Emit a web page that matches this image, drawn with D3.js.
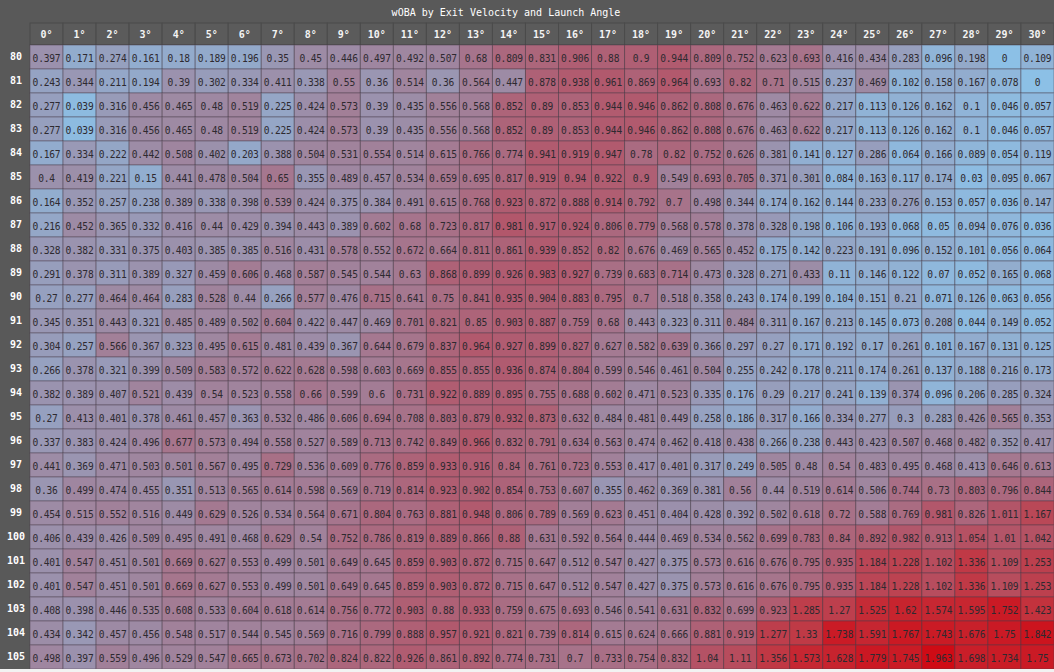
<!DOCTYPE html>
<html>
<head>
<meta charset="utf-8">
<script src="https://cdn.jsdelivr.net/npm/d3@7"></script>
<style>
  body { margin: 0; background: #f2f2f2; }
  svg { display: block; font-family: "DejaVu Sans Mono", "Liberation Mono", monospace; }
</style>
</head>
<body>
<div id="chart"></div>
<script>
// size of the page
const width = 1054;
const height = 669;
const labelW = 30;
const titleH = 23;
const headH = 22;

const title = "wOBA by Exit Velocity and Launch Angle";

const angles = ["0°","1°","2°","3°","4°","5°","6°","7°","8°","9°","10°","11°","12°","13°","14°","15°",
  "16°","17°","18°","19°","20°","21°","22°","23°","24°","25°","26°","27°","28°","29°","30°"];
const velocities = ["80","81","82","83","84","85","86","87","88","89","90","91","92",
  "93","94","95","96","97","98","99","100","101","102","103","104","105"];

// wOBA per exit velocity, one value per launch angle
const ev80 = [0.397,0.171,0.274,0.161,0.18,0.189,0.196,0.35,0.45,0.446,0.497,0.492,0.507,0.68,0.809,0.831,0.906,0.88,0.9,0.944,0.809,0.752,0.623,0.693,0.416,0.434,0.283,0.096,0.198,0,0.109];
const ev81 = [0.243,0.344,0.211,0.194,0.39,0.302,0.334,0.411,0.338,0.55,0.36,0.514,0.36,0.564,0.447,0.878,0.938,0.961,0.869,0.964,0.693,0.82,0.71,0.515,0.237,0.469,0.102,0.158,0.167,0.078,0];
const ev82 = [0.277,0.039,0.316,0.456,0.465,0.48,0.519,0.225,0.424,0.573,0.39,0.435,0.556,0.568,0.852,0.89,0.853,0.944,0.946,0.862,0.808,0.676,0.463,0.622,0.217,0.113,0.126,0.162,0.1,0.046,0.057];
const ev83 = [0.277,0.039,0.316,0.456,0.465,0.48,0.519,0.225,0.424,0.573,0.39,0.435,0.556,0.568,0.852,0.89,0.853,0.944,0.946,0.862,0.808,0.676,0.463,0.622,0.217,0.113,0.126,0.162,0.1,0.046,0.057];
const ev84 = [0.167,0.334,0.222,0.442,0.508,0.402,0.203,0.388,0.504,0.531,0.554,0.514,0.615,0.766,0.774,0.941,0.919,0.947,0.78,0.82,0.752,0.626,0.381,0.141,0.127,0.286,0.064,0.166,0.089,0.054,0.119];
const ev85 = [0.4,0.419,0.221,0.15,0.441,0.478,0.504,0.65,0.355,0.489,0.457,0.534,0.659,0.695,0.817,0.919,0.94,0.922,0.9,0.549,0.693,0.705,0.371,0.301,0.084,0.163,0.117,0.174,0.03,0.095,0.067];
const ev86 = [0.164,0.352,0.257,0.238,0.389,0.338,0.398,0.539,0.424,0.375,0.384,0.491,0.615,0.768,0.923,0.872,0.888,0.914,0.792,0.7,0.498,0.344,0.174,0.162,0.144,0.233,0.276,0.153,0.057,0.036,0.147];
const ev87 = [0.216,0.452,0.365,0.332,0.416,0.44,0.429,0.394,0.443,0.389,0.602,0.68,0.723,0.817,0.981,0.917,0.924,0.806,0.779,0.568,0.578,0.378,0.328,0.198,0.106,0.193,0.068,0.05,0.094,0.076,0.036];
const ev88 = [0.328,0.382,0.331,0.375,0.403,0.385,0.385,0.516,0.431,0.578,0.552,0.672,0.664,0.811,0.861,0.939,0.852,0.82,0.676,0.469,0.565,0.452,0.175,0.142,0.223,0.191,0.096,0.152,0.101,0.056,0.064];
const ev89 = [0.291,0.378,0.311,0.389,0.327,0.459,0.606,0.468,0.587,0.545,0.544,0.63,0.868,0.899,0.926,0.983,0.927,0.739,0.683,0.714,0.473,0.328,0.271,0.433,0.11,0.146,0.122,0.07,0.052,0.165,0.068];
const ev90 = [0.27,0.277,0.464,0.464,0.283,0.528,0.44,0.266,0.577,0.476,0.715,0.641,0.75,0.841,0.935,0.904,0.883,0.795,0.7,0.518,0.358,0.243,0.174,0.199,0.104,0.151,0.21,0.071,0.126,0.063,0.056];
const ev91 = [0.345,0.351,0.443,0.321,0.485,0.489,0.502,0.604,0.422,0.447,0.469,0.701,0.821,0.85,0.903,0.887,0.759,0.68,0.443,0.323,0.311,0.484,0.311,0.167,0.213,0.145,0.073,0.208,0.044,0.149,0.052];
const ev92 = [0.304,0.257,0.566,0.367,0.323,0.495,0.615,0.481,0.439,0.367,0.644,0.679,0.837,0.964,0.927,0.899,0.827,0.627,0.582,0.639,0.366,0.297,0.27,0.171,0.192,0.17,0.261,0.101,0.167,0.131,0.125];
const ev93 = [0.266,0.378,0.321,0.399,0.509,0.583,0.572,0.622,0.628,0.598,0.603,0.669,0.855,0.855,0.936,0.874,0.804,0.599,0.546,0.461,0.504,0.255,0.242,0.178,0.211,0.174,0.261,0.137,0.188,0.216,0.173];
const ev94 = [0.382,0.389,0.407,0.521,0.439,0.54,0.523,0.558,0.66,0.599,0.6,0.731,0.922,0.889,0.895,0.755,0.688,0.602,0.471,0.523,0.335,0.176,0.29,0.217,0.241,0.139,0.374,0.096,0.206,0.285,0.324];
const ev95 = [0.27,0.413,0.401,0.378,0.461,0.457,0.363,0.532,0.486,0.606,0.694,0.708,0.803,0.879,0.932,0.873,0.632,0.484,0.481,0.449,0.258,0.186,0.317,0.166,0.334,0.277,0.3,0.283,0.426,0.565,0.353];
const ev96 = [0.337,0.383,0.424,0.496,0.677,0.573,0.494,0.558,0.527,0.589,0.713,0.742,0.849,0.966,0.832,0.791,0.634,0.563,0.474,0.462,0.418,0.438,0.266,0.238,0.443,0.423,0.507,0.468,0.482,0.352,0.417];
const ev97 = [0.441,0.369,0.471,0.503,0.501,0.567,0.495,0.729,0.536,0.609,0.776,0.859,0.933,0.916,0.84,0.761,0.723,0.553,0.417,0.401,0.317,0.249,0.505,0.48,0.54,0.483,0.495,0.468,0.413,0.646,0.613];
const ev98 = [0.36,0.499,0.474,0.455,0.351,0.513,0.565,0.614,0.598,0.569,0.719,0.814,0.923,0.902,0.854,0.753,0.607,0.355,0.462,0.369,0.381,0.56,0.44,0.519,0.614,0.506,0.744,0.73,0.803,0.796,0.844];
const ev99 = [0.454,0.515,0.552,0.516,0.449,0.629,0.526,0.534,0.564,0.671,0.804,0.763,0.881,0.948,0.806,0.789,0.569,0.623,0.451,0.404,0.428,0.392,0.502,0.618,0.72,0.588,0.769,0.981,0.826,1.011,1.167];
const ev100 = [0.406,0.439,0.426,0.509,0.495,0.491,0.468,0.629,0.54,0.752,0.786,0.819,0.889,0.866,0.88,0.631,0.592,0.564,0.444,0.469,0.534,0.562,0.699,0.783,0.84,0.892,0.982,0.913,1.054,1.01,1.042];
const ev101 = [0.401,0.547,0.451,0.501,0.669,0.627,0.553,0.499,0.501,0.649,0.645,0.859,0.903,0.872,0.715,0.647,0.512,0.547,0.427,0.375,0.573,0.616,0.676,0.795,0.935,1.184,1.228,1.102,1.336,1.109,1.253];
const ev102 = [0.401,0.547,0.451,0.501,0.669,0.627,0.553,0.499,0.501,0.649,0.645,0.859,0.903,0.872,0.715,0.647,0.512,0.547,0.427,0.375,0.573,0.616,0.676,0.795,0.935,1.184,1.228,1.102,1.336,1.109,1.253];
const ev103 = [0.408,0.398,0.446,0.535,0.608,0.533,0.604,0.618,0.614,0.756,0.772,0.903,0.88,0.933,0.759,0.675,0.693,0.546,0.541,0.631,0.832,0.699,0.923,1.285,1.27,1.525,1.62,1.574,1.595,1.752,1.423];
const ev104 = [0.434,0.342,0.457,0.456,0.548,0.517,0.544,0.545,0.569,0.716,0.799,0.888,0.957,0.921,0.821,0.739,0.814,0.615,0.624,0.666,0.881,0.919,1.277,1.33,1.738,1.591,1.767,1.743,1.676,1.75,1.842];
const ev105 = [0.498,0.397,0.559,0.496,0.529,0.547,0.665,0.673,0.702,0.824,0.822,0.926,0.861,0.892,0.774,0.731,0.7,0.733,0.754,0.832,1.04,1.11,1.356,1.573,1.628,1.779,1.745,1.963,1.698,1.734,1.75];

const wobaRows = [ev80,ev81,ev82,ev83,ev84,ev85,ev86,ev87,ev88,ev89,ev90,ev91,ev92,
  ev93,ev94,ev95,ev96,ev97,ev98,ev99,ev100,ev101,ev102,ev103,ev104,ev105];

// flatten into cells
const cells = [];
velocities.forEach((v, i) => {
  angles.forEach((a, j) => {
    cells.push({ev: v, la: a, woba: wobaRows[i][j]});
  });
});

// scales
const x_scale = d3.scaleBand()
    .domain(angles)
    .range([labelW, width]);

const y_scale = d3.scaleBand()
    .domain(velocities)
    .range([titleH + headH, height]);

const color = d3.scaleLinear()
    .domain([0, 0.45, 0.95, 1.4, 2])
    .range(["#8cc0e6", "#9d8ba5", "#b15a6e", "#c2343f", "#d00812"]);

const fmt = d => String(+d.toFixed(3));

const svg = d3.select("#chart")
    .append("svg")
    .attr("width", width)
    .attr("height", height);

svg.append("rect")
    .attr("width", width)
    .attr("height", height)
    .attr("fill", "#595959");

// title
svg.append("text")
    .attr("x", 506)
    .attr("y", 12)
    .attr("text-anchor", "middle")
    .attr("dominant-baseline", "central")
    .attr("fill", "#ffffff")
    .attr("font-size", 10)
    .text(title);

// header cells
svg.selectAll(".head")
    .data(angles)
    .enter()
    .append("rect")
    .attr("class", "head")
    .attr("x", d => x_scale(d))
    .attr("y", titleH)
    .attr("width", x_scale.bandwidth())
    .attr("height", headH)
    .attr("fill", "#5b5b5b")
    .attr("stroke", "#4b4b4b")
    .attr("stroke-width", 1);

// column labels via axis
const x_axis = d3.axisTop(x_scale).tickSize(0).tickPadding(0);
const gx = svg.append("g")
    .attr("class", "x axis")
    .attr("transform", `translate(0, ${titleH + headH / 2 + 4})`)
    .call(x_axis);
gx.select(".domain").remove();
gx.selectAll("text")
    .attr("fill", "#f4f4f4")
    .attr("font-size", 10)
    .attr("font-weight", "bold")
    .attr("font-family", "DejaVu Sans Mono, monospace");

// row labels via axis
const y_axis = d3.axisLeft(y_scale).tickSize(0).tickPadding(0);
const gy = svg.append("g")
    .attr("class", "y axis")
    .attr("transform", `translate(${labelW / 2 + 1}, 0)`)
    .call(y_axis);
gy.select(".domain").remove();
gy.selectAll("text")
    .attr("text-anchor", "middle")
    .attr("fill", "#ffffff")
    .attr("font-size", 10)
    .attr("font-weight", "bold")
    .attr("font-family", "DejaVu Sans Mono, monospace");

// heat cells
const cell = svg.selectAll(".cell")
    .data(cells)
    .enter()
    .append("g")
    .attr("class", "cell")
    .attr("transform", d => `translate(${x_scale(d.la)}, ${y_scale(d.ev)})`);

cell.append("rect")
    .attr("width", x_scale.bandwidth())
    .attr("height", y_scale.bandwidth())
    .attr("fill", d => color(d.woba))
    .attr("stroke", "rgba(70,60,70,0.45)")
    .attr("stroke-width", 1);

cell.append("text")
    .attr("x", x_scale.bandwidth() / 2)
    .attr("y", y_scale.bandwidth() / 2 + 1)
    .attr("text-anchor", "middle")
    .attr("dominant-baseline", "central")
    .attr("fill", "#2e2a30")
    .attr("font-size", 9.6)
    .attr("letter-spacing", -0.2)
    .text(d => fmt(d.woba));
</script>
</body>
</html>
